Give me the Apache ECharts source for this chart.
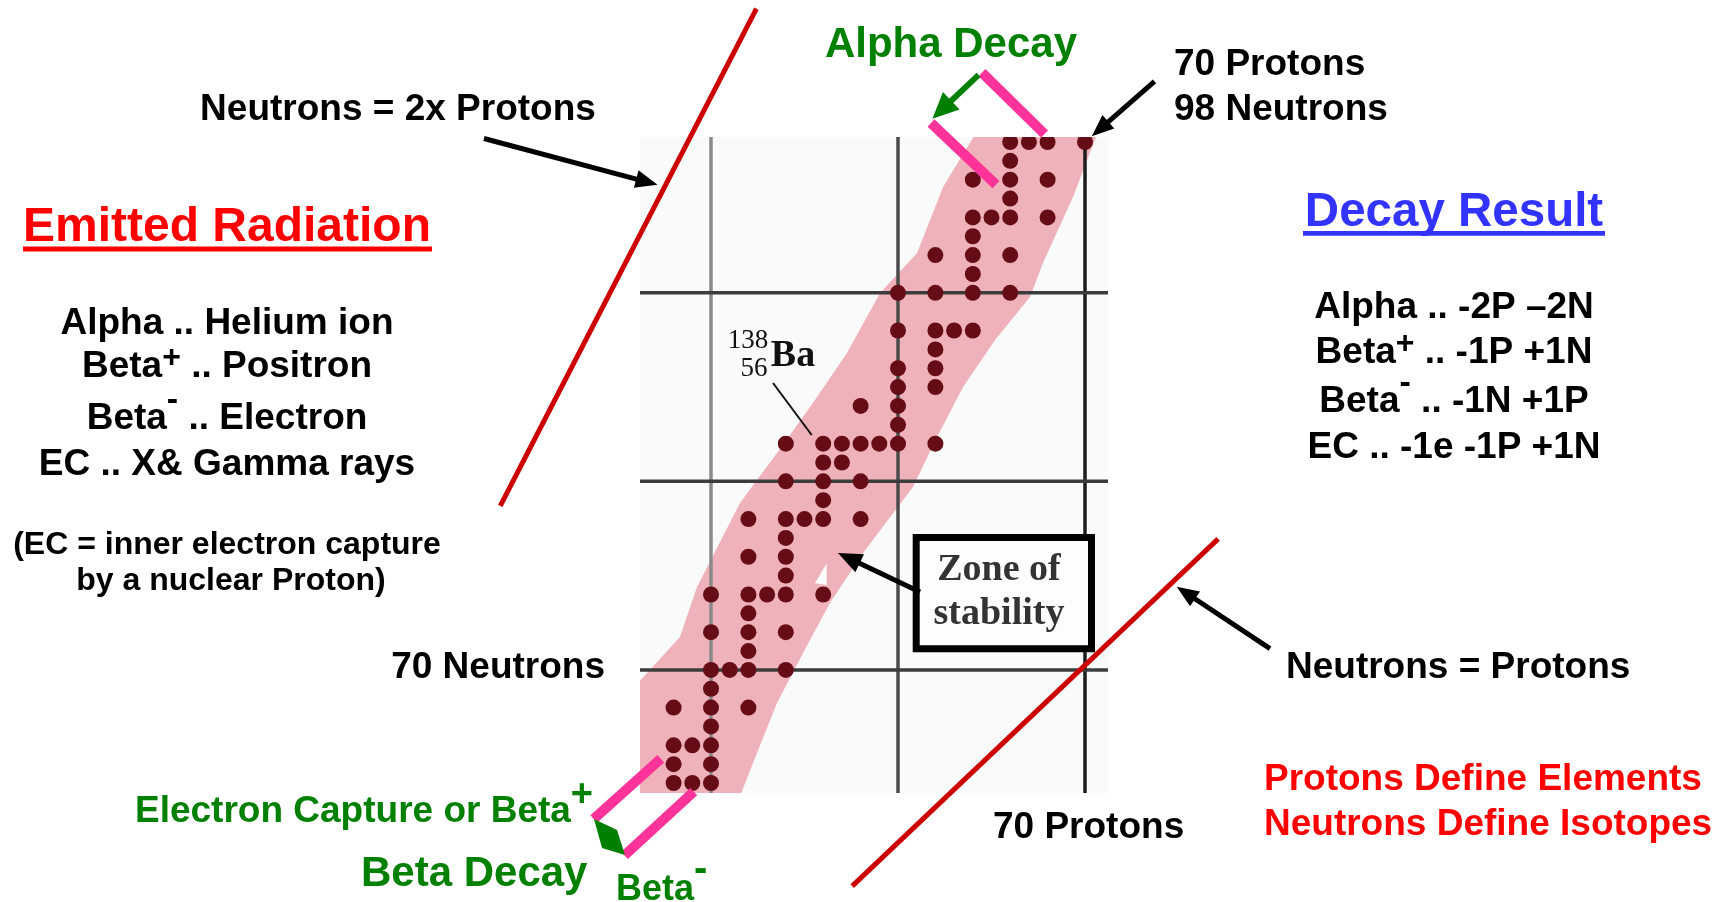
<!DOCTYPE html>
<html><head><meta charset="utf-8">
<script src="https://cdn.jsdelivr.net/npm/echarts@6/dist/echarts.min.js"></script>
<style>html,body{margin:0;padding:0;background:#fff}#c{width:1724px;height:902px}</style>
</head><body><div id="c"></div>
<script>
// ---------------- data ----------------
// proton number (Z) of each element shown, and neutron numbers (N) of its stable isotopes visible in the chart
const protonNumbers = [48, 49, 50, 51, 52, 53, 54, 55, 56, 57, 58, 59, 60, 62, 63, 64, 65, 66, 67, 68, 70];
const stableNeutrons = [
  [64, 65, 66, 68],                     // Cd
  [64, 66],                             // In
  [64, 65, 66, 67, 68, 69, 70, 72, 74], // Sn
  [70],                                 // Sb
  [68, 70, 71, 72, 73, 74, 76, 78],     // Te
  [74],                                 // I
  [70, 72, 74, 75, 76, 77, 78, 80, 82], // Xe
  [78],                                 // Cs
  [74, 78, 79, 80, 81, 82],             // Ba
  [81, 82],                             // La
  [78, 80, 82, 84],                     // Ce
  [82],                                 // Pr
  [82, 83, 84, 85, 86, 88, 90],         // Nd
  [82, 85, 86, 87, 88, 90, 92],         // Sm
  [88],                                 // Eu
  [88, 90, 91, 92, 93, 94, 96],         // Gd
  [94],                                 // Tb
  [90, 92, 94, 95, 96, 97, 98],         // Dy
  [98],                                 // Ho
  [94, 96, 98],                         // Er
  [98]                                  // Yb
];
const gridProtons = [50, 60, 70];
const gridNeutrons = [70, 80, 90];
// outline of the pink "zone of stability" band, [protons, neutrons]
const bandUpperEdge = [[64.12, 98.4], [62.41, 95.61], [61.02, 92.11], [59.04, 89.99], [57.27, 86.81], [55.45, 84.16],
  [53.53, 81.50], [51.55, 78.85], [49.25, 74.40], [48.34, 71.74], [46.0, 69.20], [46.0, 63.3]];
const bandLowerEdge = [[51.55, 63.3], [52.46, 65.59], [53.53, 68.24], [54.92, 70.90], [56.36, 73.55], [58.13, 76.20],
  [60.80, 79.70], [62.09, 82.35], [63.48, 85.00], [65.19, 87.50], [67.06, 89.78], [67.75, 91.58], [69.36, 95.08], [70.64, 98.4]];
// reference lines, [protons, neutrons] end points
const lineTwiceProtons = [[38.73, 78.70], [52.43, 105.07]];
const lineEqualProtons = [[57.55, 58.53], [77.12, 76.95]];

// ---------------- build ----------------
const nuclides = [];
protonNumbers.forEach((z, i) => stableNeutrons[i].forEach(n => nuclides.push([z, n])));
const bandPolygon = bandUpperEdge.concat(bandLowerEdge);

const FONT = '"Liberation Sans", Arial, sans-serif';
const SERIF = '"Liberation Serif", "Times New Roman", serif';
const GREEN = '#008000', RED = '#ff0000', BLUE = '#3333ff', PINK = '#ff3399';
const TEXT_DY = 3;

function txt(x, y, text, size, color, align, extra) {
  const st = Object.assign({
    text: text, fontSize: size, fontWeight: 'bold', fontFamily: FONT, fill: color,
    align: align, textAlign: align, verticalAlign: 'middle', textVerticalAlign: 'middle'
  }, extra || {});
  return { type: 'text', x: x, y: y + TEXT_DY, z: 100, style: st };
}
function richTxt(x, y, text, size, color, align, supSize, raise) {
  return txt(x, y, text, size, color, align, {
    rich: {
      m: { fontSize: size, fontWeight: 'bold', fontFamily: FONT, fill: color, verticalAlign: 'middle' },
      s: { fontSize: supSize, fontWeight: 'bold', fontFamily: FONT, fill: color, verticalAlign: 'middle', padding: [0, 0, raise * 2, 0] }
    }
  });
}
function arrow(x1, y1, x2, y2, color, w, hl, hw) {
  const dx = x2 - x1, dy = y2 - y1, L = Math.hypot(dx, dy), ux = dx / L, uy = dy / L;
  const bx = x2 - ux * hl, by = y2 - uy * hl, px = -uy, py = ux;
  return [
    { type: 'line', z: 100, shape: { x1: x1, y1: y1, x2: bx + ux * 2, y2: by + uy * 2 }, style: { stroke: color, lineWidth: w } },
    { type: 'polygon', z: 100, shape: { points: [[x2, y2], [bx + px * hw / 2, by + py * hw / 2], [bx - px * hw / 2, by - py * hw / 2]] }, style: { fill: color } }
  ];
}
function bar(x1, y1, x2, y2) {
  return { type: 'line', z: 100, shape: { x1: x1, y1: y1, x2: x2, y2: y2 }, style: { stroke: PINK, lineWidth: 10 } };
}

const graphics = [].concat(
  // left column
  [txt(227, 225, 'Emitted Radiation', 48, RED, 'center'),
   { type: 'rect', z: 100, shape: { x: 23, y: 246.5, width: 409, height: 5 }, style: { fill: RED } },
   txt(227, 321, 'Alpha .. Helium ion', 37, '#000', 'center'),
   richTxt(227, 364, '{m|Beta}{s|+}{m| .. Positron}', 37, '#000', 'center', 32, 9),
   richTxt(227, 415.6, '{m|Beta}{s|-}{m| .. Electron}', 37, '#000', 'center', 34, 18),
   txt(227, 461.5, 'EC .. X& Gamma rays', 37, '#000', 'center'),
   txt(227, 542.5, '(EC = inner electron capture', 32, '#000', 'center'),
   txt(231, 578, 'by a nuclear Proton)', 32, '#000', 'center')],
  // right column
  [txt(1454, 210, 'Decay Result', 47.5, BLUE, 'center'),
   { type: 'rect', z: 100, shape: { x: 1303, y: 231, width: 302, height: 4.7 }, style: { fill: BLUE } },
   txt(1454, 305, 'Alpha .. -2P \u20132N', 37, '#000', 'center'),
   richTxt(1454, 350, '{m|Beta}{s|+}{m| .. -1P +1N}', 37, '#000', 'center', 32, 9),
   richTxt(1454, 399, '{m|Beta}{s|-}{m| .. -1N +1P}', 37, '#000', 'center', 34, 18),
   txt(1454, 445, 'EC .. -1e -1P +1N', 37, '#000', 'center')],
  // labels around the chart
  [txt(398, 106.6, 'Neutrons = 2x Protons', 37, '#000', 'center'),
   txt(951, 42, 'Alpha Decay', 42, GREEN, 'center'),
   txt(1174, 61.6, '70 Protons', 37, '#000', 'left'),
   txt(1174, 106.6, '98 Neutrons', 37, '#000', 'left'),
   txt(605, 665, '70 Neutrons', 37, '#000', 'right'),
   txt(1286, 665, 'Neutrons = Protons', 37, '#000', 'left'),
   txt(993, 824.6, '70 Protons', 37, '#000', 'left'),
   txt(1264, 777, 'Protons Define Elements', 37, RED, 'left'),
   txt(1264, 822, 'Neutrons Define Isotopes', 37, RED, 'left'),
   richTxt(135, 809, '{m|Electron Capture or Beta}{s|+}', 37, GREEN, 'left', 38, 16.5),
   txt(361, 871, 'Beta Decay', 42, GREEN, 'left'),
   richTxt(616, 887, '{m|Beta}{s|-}', 36, GREEN, 'left', 40, 20)],
  // zone of stability box
  [{ type: 'rect', z: 100, shape: { x: 916.2, y: 537.5, width: 175.3, height: 111.3 }, style: { fill: '#fdfdfd', stroke: '#000', lineWidth: 7 } },
   txt(999, 567, 'Zone of', 38, '#333', 'center', { fontFamily: SERIF }),
   txt(999, 611, 'stability', 38, '#333', 'center', { fontFamily: SERIF })],
  // 138/56 Ba label
  [txt(748, 338, '138', 27, '#111', 'center', { fontFamily: SERIF, fontWeight: 'normal' }),
   txt(754, 366, '56', 27, '#111', 'center', { fontFamily: SERIF, fontWeight: 'normal' }),
   txt(793, 353, 'Ba', 38, '#111', 'center', { fontFamily: SERIF }),
   { type: 'line', z: 100, shape: { x1: 773, y1: 383, x2: 811.7, y2: 435 }, style: { stroke: '#111', lineWidth: 2 } },
   { type: 'polygon', z: 99, shape: { points: [[826.7, 563.3], [826.7, 585], [815, 583.3]] }, style: { fill: '#ffffff' } }],
  // black arrows
  arrow(484, 138.5, 657.5, 184.7, '#000', 5, 22, 18),
  arrow(1154.5, 81.4, 1091.8, 136.3, '#000', 5, 22, 18),
  arrow(920, 592, 838, 553, '#000', 5, 24, 20),
  arrow(1270, 648.7, 1176.7, 586.7, '#000', 5, 22, 18),
  // decay bars and green arrows
  [bar(982, 72.6, 1044.5, 134), bar(931, 123, 996, 184.7),
   bar(593.7, 819, 660.8, 758.7), bar(624.5, 855.4, 693.8, 791.6)],
  arrow(978.6, 74.8, 932.4, 118.7, GREEN, 6, 26, 24),
  [{ type: 'polygon', z: 101, shape: { points: [[594, 819], [617, 830], [625, 855], [602, 848]] }, style: { fill: GREEN } }]
);

function refLine(points) {
  return {
    type: 'custom', clip: false, z: 10, silent: true, data: [points[0].concat(points[1])],
    encode: { x: [0, 2], y: [1, 3] },
    renderItem: (params, api) => {
      const a = api.coord([api.value(0), api.value(1)]), b = api.coord([api.value(2), api.value(3)]);
      return { type: 'line', shape: { x1: a[0], y1: a[1], x2: b[0], y2: b[1] }, style: { stroke: '#cc0000', lineWidth: 5 } };
    }
  };
}

const chart = echarts.init(document.getElementById('c'), null, { renderer: 'canvas' });
chart.setOption({
  animation: false,
  backgroundColor: '#ffffff',
  grid: { left: 640, top: 137, width: 468, height: 656, show: true, backgroundColor: '#f9fbfa', borderWidth: 0 },
  xAxis: { type: 'value', min: 46.203, max: 71.23, show: false },
  yAxis: { type: 'value', min: 63.47, max: 98.265, show: false },
  series: [
    { type: 'custom', name: 'band', clip: true, z: 1, data: [[0, 0]],
      renderItem: (params, api) => ({ type: 'polygon', shape: { points: bandPolygon.map(p => api.coord(p)) }, style: { fill: '#f0b2ba' } }) },
    { type: 'custom', name: 'vgrid', clip: true, z: 2, data: gridProtons.map(v => [v, gridNeutrons[0]]),
      renderItem: (params, api) => {
        const cs = params.coordSys, x = api.coord([api.value(0), api.value(1)])[0];
        const col = ['#8a8a8a', '#4a4a4a', '#1c1c1c'][params.dataIndex];
        return { type: 'line', shape: { x1: x, y1: cs.y, x2: x, y2: cs.y + cs.height }, style: { stroke: col, lineWidth: 3.5 } };
      } },
    { type: 'custom', name: 'hgrid', clip: true, z: 2, data: gridNeutrons.map(v => [gridProtons[0], v]),
      renderItem: (params, api) => {
        const cs = params.coordSys, y = api.coord([api.value(0), api.value(1)])[1];
        return { type: 'line', shape: { x1: cs.x, y1: y, x2: cs.x + cs.width, y2: y }, style: { stroke: '#3c3c3c', lineWidth: 3.5 } };
      } },
    { type: 'custom', name: 'nuclides', clip: true, z: 3, data: nuclides,
      renderItem: (params, api) => {
        const p = api.coord([api.value(0), api.value(1)]);
        return { type: 'circle', shape: { cx: p[0], cy: p[1], r: 8 }, style: { fill: '#650c17' } };
      } },
    refLine(lineTwiceProtons),
    refLine(lineEqualProtons)
  ],
  graphic: graphics
});
</script></body></html>
